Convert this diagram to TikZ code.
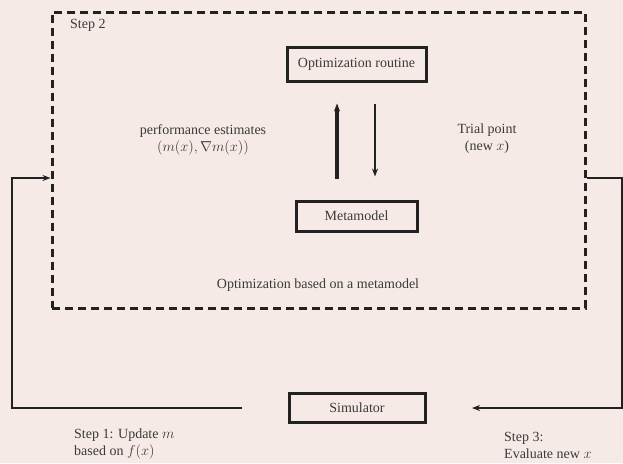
\documentclass[tikz,border=0pt]{standalone}
\usepackage{fontspec}
\setmainfont{Liberation Serif}
\usetikzlibrary{arrows.meta}
\definecolor{paper}{HTML}{F5EAE6}
\definecolor{ink}{HTML}{222222}
\definecolor{txt}{HTML}{3A3A3A}

\tikzset{
    box/.style={draw=ink, rectangle, line width=3pt, text=txt, inner sep=0pt},
    lbl/.style={text=txt, align=center, inner sep=0pt},
    link/.style={draw=ink, line width=2.4pt, -{Stealth[length=8pt,width=6pt]}},
}

\begin{document}
\begin{tikzpicture}[x=1pt, y=-1pt, font=\fontsize{14}{17}\selectfont]
    \fill[paper] (0,0) rectangle (623,463);
    \useasboundingbox (0,0) rectangle (623,463);
    \node (outer) at (318.5,160) [draw=ink, rectangle, line width=3pt, dash pattern=on 8pt off 5pt, minimum width=533pt, minimum height=296pt] {};
    \node (steptwo) at (70,25) [lbl, anchor=west] {Step 2};
    \node (opt) at (356.5,64) [box, minimum width=139pt, minimum height=34pt] {Optimization routine};
    \node (meta) at (356.5,216) [box, minimum width=121pt, minimum height=30pt] {Metamodel};
    \node (sim) at (357,408) [box, minimum width=136pt, minimum height=29pt] {Simulator};
    \node (perf) at (203,140) [lbl] {performance estimates\\$(m(x), \nabla m(x))$};
    \node (trial) at (487,139) [lbl] {Trial point\\(new $x$)};
    \node (based) at (318,285) [lbl] {Optimization based on a metamodel};
    \node (stepone) at (74,444) [lbl, anchor=west, align=left] {Step 1: Update $m$\\based on $f(x)$};
    \node (stepthree) at (504,445) [lbl, anchor=west, align=left] {Step 3:\\Evaluate new $x$};
    \coordinate (leftend) at (242,408);
    \coordinate (rightend) at (472,408);
    \draw[link, line width=3.6pt, shorten <=21pt, shorten >=21pt] ([xshift=-19.5pt]meta.north) -- ([xshift=-19.5pt]opt.south);
    \draw[link, line width=2pt, shorten <=21pt, shorten >=23pt] ([xshift=18.5pt]opt.south) -- ([xshift=18.5pt]meta.north);
    \draw[link] (leftend) -| (12,178) -- ([yshift=-18pt]outer.west);
    \draw[link] ([yshift=-18pt]outer.east) -- (622,178) |- (rightend);
\end{tikzpicture}
\end{document}
